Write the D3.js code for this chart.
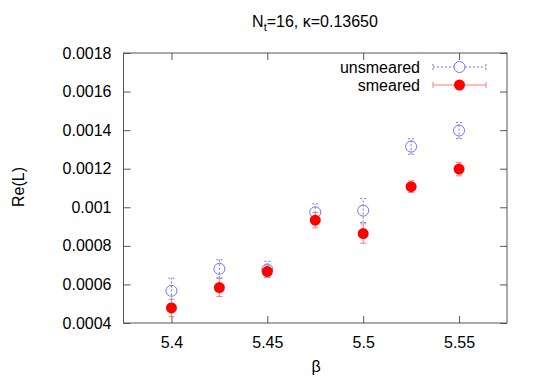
<!DOCTYPE html>
<html>
<head>
<meta charset="utf-8">
<script src="https://cdn.jsdelivr.net/npm/d3@7"></script>
<style>
  body { margin: 0; background: #fff; }
  text { font-family: "Liberation Sans", Arial, sans-serif; fill: #000; }
</style>
</head>
<body>
<div id="chart"></div>
<script>
// data
var beta = [5.4, 5.425, 5.45, 5.475, 5.5, 5.525, 5.55];
var unsmeared = [0.000567, 0.000681, 0.000678, 0.000974, 0.000983, 0.001315, 0.001398];
var unsmearedErr = [0.000066, 0.000047, 0.000042, 0.000044, 0.000062, 0.00004, 0.000042];
var smeared = [0.000478, 0.000584, 0.000667, 0.000933, 0.000864, 0.001107, 0.001198];
var smearedErr = [0.000045, 0.000047, 0.00003, 0.00004, 0.00005, 0.00003, 0.000035];
var xTicks = [5.4, 5.45, 5.5, 5.55];
var yTicks = [0.0004, 0.0006, 0.0008, 0.001, 0.0012, 0.0014, 0.0016, 0.0018];

var svgWidth = 538, svgHeight = 377;
var margin = {top: 53, right: 31, bottom: 54, left: 123.5};
var width = svgWidth - margin.left - margin.right;
var height = svgHeight - margin.top - margin.bottom;

var svg = d3.select("#chart").append("svg").attr("width", svgWidth).attr("height", svgHeight);
var chartGroup = svg.append("g").attr("transform", `translate(${margin.left}, ${margin.top})`);

var x = d3.scaleLinear().domain([5.375, 5.575]).range([0, width]);
var y = d3.scaleLinear().domain([0.0004, 0.0018]).range([height, 0]);

var tickLen = 7;
var frameColor = "#555";
var fontSize = "16px";

// axes with inward ticks, mirrored on top/right
var bottomAxis = d3.axisBottom(x).tickValues(xTicks).tickSizeInner(-tickLen).tickSizeOuter(0).tickPadding(14).tickFormat(d3.format("~g"));
var topAxis = d3.axisTop(x).tickValues(xTicks).tickSizeInner(-tickLen).tickSizeOuter(0).tickFormat("");
var leftAxis = d3.axisLeft(y).tickValues(yTicks).tickSizeInner(-tickLen).tickSizeOuter(0).tickPadding(12)
  .tickFormat(d => d3.format("~g")(+d.toFixed(5)));
var rightAxis = d3.axisRight(y).tickValues(yTicks).tickSizeInner(-tickLen).tickSizeOuter(0).tickFormat("");

function styleAxis(g) {
  g.select(".domain").remove();
  g.selectAll("line").attr("stroke", frameColor);
  g.selectAll("text").attr("font-size", fontSize).attr("fill", "#000")
    .attr("font-family", "'Liberation Sans', Arial, sans-serif");
}
chartGroup.append("g").attr("transform", `translate(0, ${height})`).call(bottomAxis).call(styleAxis);
chartGroup.append("g").call(topAxis).call(styleAxis);
chartGroup.append("g").call(leftAxis).call(styleAxis);
chartGroup.append("g").attr("transform", `translate(${width}, 0)`).call(rightAxis).call(styleAxis);

chartGroup.append("rect").attr("width", width).attr("height", height)
  .attr("fill", "none").attr("stroke", frameColor).attr("stroke-width", 1);

var blue = "#7272ff";
var red = "#ff0000";
var redBar = "#ff7a7a";
var cap = 3;

var uData = beta.map((b, i) => ({b: b, v: unsmeared[i], e: unsmearedErr[i]}));
var sData = beta.map((b, i) => ({b: b, v: smeared[i], e: smearedErr[i]}));

function errorBars(data, color, dash) {
  var g = chartGroup.append("g").attr("stroke", color).attr("stroke-width", 1).attr("fill", "none");
  if (dash) g.attr("stroke-dasharray", dash);
  data.forEach(function(d) {
    var cx = x(d.b), y0 = y(d.v - d.e), y1 = y(d.v + d.e);
    g.append("line").attr("x1", cx).attr("x2", cx).attr("y1", y0).attr("y2", y1);
    g.append("line").attr("x1", cx - cap).attr("x2", cx + cap).attr("y1", y0).attr("y2", y0);
    g.append("line").attr("x1", cx - cap).attr("x2", cx + cap).attr("y1", y1).attr("y2", y1);
  });
}
errorBars(uData, blue, "2,2");
errorBars(sData, redBar, null);

chartGroup.selectAll(".u").data(uData).enter().append("circle")
  .attr("cx", d => x(d.b)).attr("cy", d => y(d.v)).attr("r", 5.5)
  .attr("fill", "none").attr("stroke", blue).attr("stroke-width", 1);
chartGroup.selectAll(".s").data(sData).enter().append("circle")
  .attr("cx", d => x(d.b)).attr("cy", d => y(d.v)).attr("r", 5.5)
  .attr("fill", red);

// legend
var legend = svg.append("g");
var legendItems = [
  {label: "unsmeared", y: 67, color: blue, dash: "2,2", filled: false},
  {label: "smeared", y: 85, color: redBar, dash: null, filled: true}
];
legendItems.forEach(function(it) {
  legend.append("text").attr("x", 420).attr("y", it.y).attr("dy", "0.35em")
    .attr("text-anchor", "end").attr("font-size", fontSize).text(it.label);
  var lg = legend.append("g").attr("stroke", it.color).attr("stroke-width", 1);
  if (it.dash) lg.attr("stroke-dasharray", it.dash);
  lg.append("line").attr("x1", 433).attr("x2", 486).attr("y1", it.y).attr("y2", it.y);
  lg.append("line").attr("x1", 433).attr("x2", 433).attr("y1", it.y - cap).attr("y2", it.y + cap);
  lg.append("line").attr("x1", 486).attr("x2", 486).attr("y1", it.y - cap).attr("y2", it.y + cap);
  legend.append("circle").attr("cx", 459.5).attr("cy", it.y).attr("r", 5.5)
    .attr("fill", it.filled ? red : "#fff").attr("stroke", it.filled ? "none" : blue);
});

// title
var title = svg.append("text").attr("x", 315).attr("y", 27).attr("text-anchor", "middle").attr("font-size", fontSize);
title.append("tspan").text("N");
title.append("tspan").attr("font-size", "11px").attr("dy", 4).text("t");
title.append("tspan").attr("dy", -4).text("=16, \u03ba=0.13650");

// axis labels
svg.append("text").attr("transform", "rotate(-90)").attr("x", -187).attr("y", 18).attr("dy", "0.35em")
  .attr("text-anchor", "middle").attr("font-size", fontSize).text("Re(L)");
svg.append("text").attr("x", 316).attr("y", 372).attr("text-anchor", "middle").attr("font-size", fontSize).text("\u03b2");
</script>
</body>
</html>
